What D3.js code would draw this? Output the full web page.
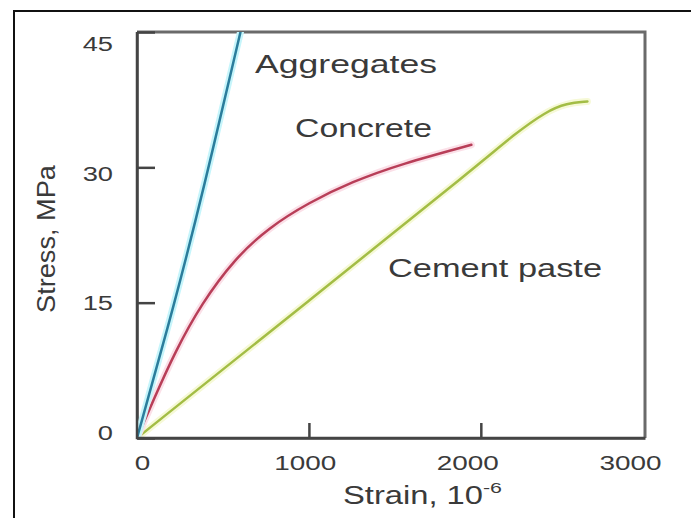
<!DOCTYPE html>
<html>
<head>
<meta charset="utf-8">
<script src="https://cdn.jsdelivr.net/npm/d3@7"></script>
<style>
  body { margin: 0; background: #fff; }
  svg text { font-family: "Liberation Sans", Arial, sans-serif; fill: #3a3a3a; }
</style>
</head>
<body>
<div id="chart"></div>
<script>
// Данные кривых: деформация (10^-6) и напряжение (МПа)
const aggregates = [[0, 0], [220, 15], [380, 27], [602, 45]];
const concrete = [[0, 0], [100, 4.4], [220, 9.5], [375, 14.9], [570, 19.9], [765, 23.3],
    [1000, 26.1], [1250, 28.4], [1540, 30.4], [1945, 32.5]];
const cementPaste = [[0, 0], [1000, 15.2], [2000, 30.5], [2190, 33.6], [2380, 36.2],
    [2500, 37.1], [2620, 37.3]];

const xTicks = [0, 1000, 2000, 3000];
const yTicks = [0, 15, 30, 45];

const width = 691;
const height = 518;

const svg = d3.select("#chart").append("svg")
    .attr("width", width)
    .attr("height", height);

//Рамка всей картинки
svg.append("rect")
    .attr("x", 14).attr("y", 11)
    .attr("width", 700).attr("height", 520)
    .attr("fill", "#fff")
    .attr("stroke", "#111")
    .attr("stroke-width", 2);

//Шкалы
const x = d3.scaleLinear().domain([0, 2955]).range([137, 645]);
const y = d3.scaleLinear().domain([0, 45]).range([438, 32]);
//Подписи на картинке стоят чуть в стороне от засечек
const xLab = d3.scaleLinear().domain([0, 3000]).range([142, 630]);
const yLab = d3.scaleLinear().domain([0, 45]).range([432, 43]);

//Верхняя и правая границы поля
svg.append("path")
    .attr("d", `M${x(0)},${y(45)}H${x(2955)}V${y(0)}`)
    .attr("fill", "none")
    .attr("stroke", "#6a6a6a")
    .attr("stroke-width", 3);

//Засечки внутрь поля
svg.append("g")
    .attr("transform", `translate(0,${y(0)})`)
    .call(d3.axisBottom(x).tickValues(xTicks.slice(0, 3)).tickFormat("").tickSizeInner(-15).tickSizeOuter(0))
    .call(g => g.selectAll("line, path").attr("stroke", "#444").attr("stroke-width", 2.5));

svg.append("g")
    .attr("transform", `translate(${x(0)},0)`)
    .call(d3.axisLeft(y).tickValues(yTicks).tickFormat("").tickSizeInner(-18).tickSizeOuter(0))
    .call(g => g.selectAll("line, path").attr("stroke", "#444").attr("stroke-width", 2.5));

//Подписи делений
svg.append("g")
    .attr("transform", `translate(0,${y(0)})`)
    .call(d3.axisBottom(xLab).tickValues(xTicks).tickFormat(d3.format("d")).tickSize(0).tickPadding(0))
    .call(g => g.select(".domain").remove())
    .call(g => g.selectAll("text")
        .attr("y", 32)
        .attr("dy", 0)
        .attr("font-size", 21)
        .attr("transform", "scale(1.33,1)")
        .attr("font-family", "Liberation Sans, Arial, sans-serif")
        .attr("fill", "#3a3a3a"));

svg.append("g")
    .attr("transform", `translate(${x(0)},0)`)
    .call(d3.axisLeft(yLab).tickValues(yTicks).tickSize(0).tickPadding(0))
    .call(g => g.select(".domain").remove())
    .call(g => g.selectAll("text")
        .attr("x", -24 / 1.3)
        .attr("dy", "0.36em")
        .attr("font-size", 21)
        .attr("transform", "scale(1.3,1)")
        .attr("font-family", "Liberation Sans, Arial, sans-serif")
        .attr("fill", "#3a3a3a"));

//Кривые
svg.append("clipPath").attr("id", "plot")
    .append("rect")
    .attr("x", x(0)).attr("y", y(45))
    .attr("width", x(2955) - x(0)).attr("height", y(0) - y(45));

const line = d3.line()
    .x(d => x(d[0]))
    .y(d => y(d[1]))
    .curve(d3.curveBasis);

const series = [
    { data: cementPaste, color: "#a3bd45", halo: "#f6f9d6" },
    { data: concrete, color: "#b83e58", halo: "#fbe0e8" },
    { data: aggregates, color: "#2b7d9c", halo: "#c6f5fb" }
];

const lines = svg.append("g").attr("clip-path", "url(#plot)");
series.forEach(s => {
    lines.append("path")
        .datum(s.data)
        .attr("fill", "none")
        .attr("stroke", s.halo)
        .attr("stroke-width", 7)
        .attr("stroke-linecap", "round")
        .attr("d", line);
    lines.append("path")
        .datum(s.data)
        .attr("fill", "none")
        .attr("stroke", s.color)
        .attr("stroke-width", 2.5)
        .attr("stroke-linecap", "round")
        .attr("d", line);
});

//Левая и нижняя оси поверх кривых
svg.append("path")
    .attr("d", `M${x(0)},${y(45)}V${y(0)}H${x(2955)}`)
    .attr("fill", "none")
    .attr("stroke", "#444")
    .attr("stroke-width", 2.5);

//Подписи кривых
const labels = [
    { text: "Aggregates", x: 255, y: 73, len: 182 },
    { text: "Concrete", x: 295, y: 137, len: 137 },
    { text: "Cement paste", x: 388, y: 277, len: 214 }
];
svg.selectAll(".curve-label")
    .data(labels)
    .enter()
    .append("text")
    .attr("class", "curve-label")
    .attr("x", d => d.x)
    .attr("y", d => d.y)
    .attr("font-size", 25)
    .attr("textLength", d => d.len)
    .attr("lengthAdjust", "spacingAndGlyphs")
    .text(d => d.text);

//Названия осей
const xTitle = svg.append("text")
    .attr("x", 343)
    .attr("y", 504)
    .attr("font-size", 25);
xTitle.append("tspan")
    .attr("textLength", 140)
    .attr("lengthAdjust", "spacingAndGlyphs")
    .text("Strain, 10");
xTitle.append("tspan")
    .attr("dy", -11)
    .attr("font-size", 15)
    .attr("textLength", 19)
    .attr("lengthAdjust", "spacingAndGlyphs")
    .text("-6");

svg.append("text")
    .attr("transform", "translate(55,239) rotate(-90)")
    .attr("text-anchor", "middle")
    .attr("font-size", 25)
    .attr("textLength", 148)
    .attr("lengthAdjust", "spacingAndGlyphs")
    .text("Stress, MPa");
</script>
</body>
</html>
